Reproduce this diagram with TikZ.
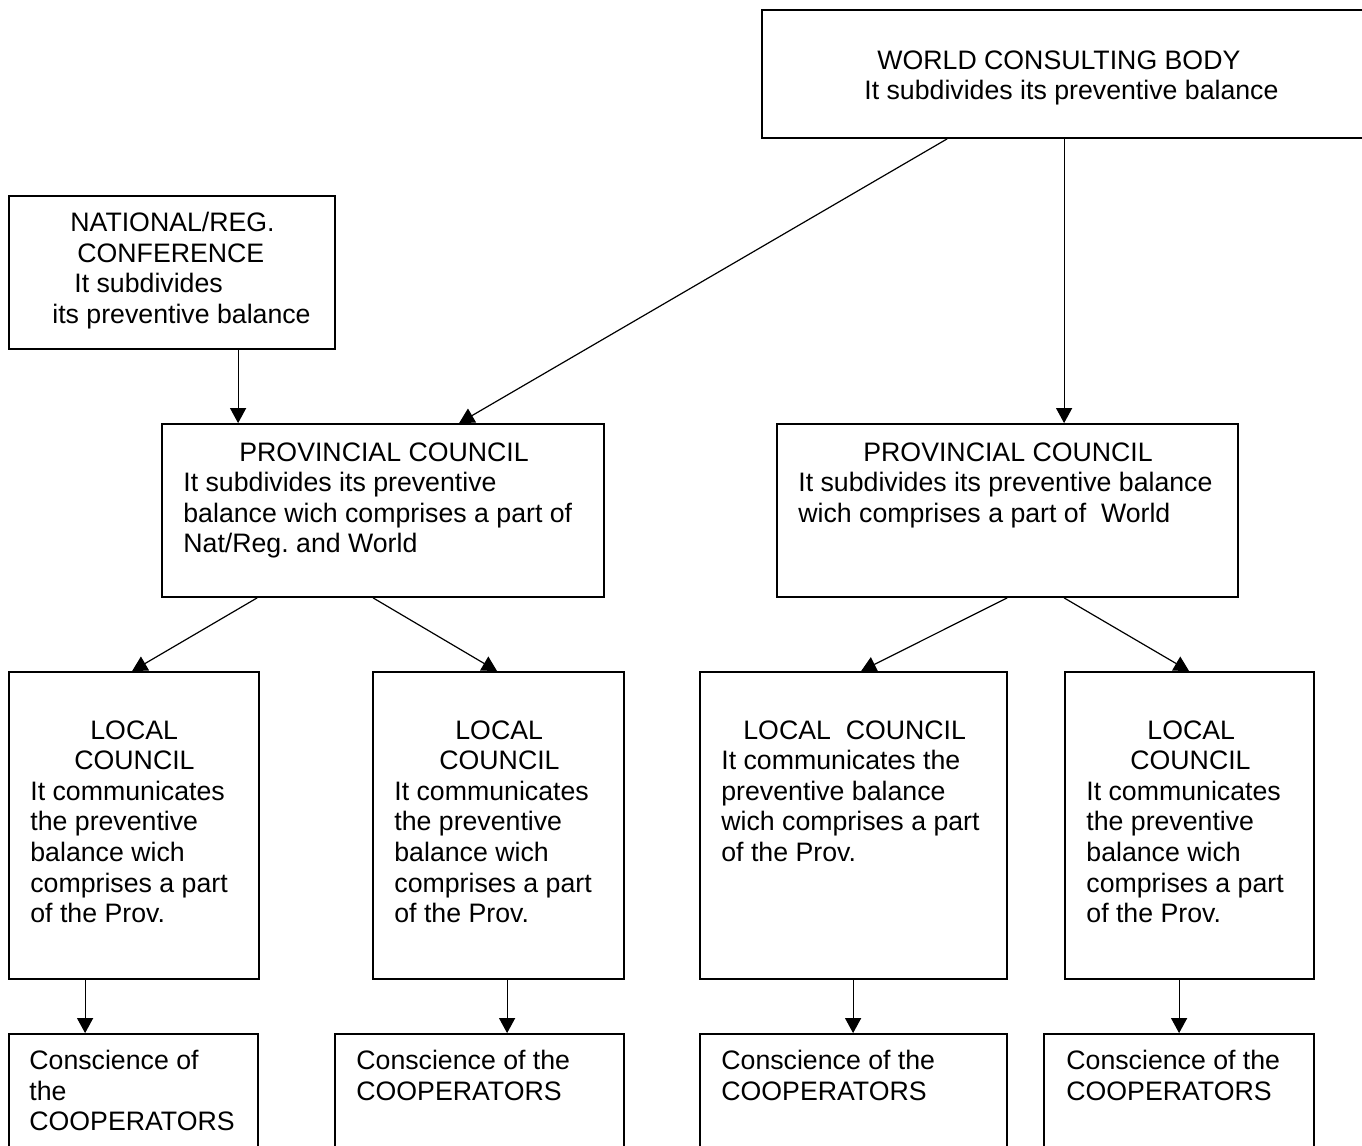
\documentclass[tikz,border=0pt]{standalone}
\usepackage{fontspec}
\setmainfont{Liberation Sans}
\usetikzlibrary{arrows.meta,fit}
\frenchspacing
\tikzset{
  box/.style={draw, line width=0.9pt, inner sep=0pt},
  txt/.style={anchor=north west, inner sep=0pt, align=left, font=\fontsize{13.35}{15.3}\selectfont},
  arr/.style={-{Triangle[length=7.5pt,width=8pt]}, line width=0.6pt}
}
\begin{document}
\begin{tikzpicture}[x=0.5pt,y=-0.5pt]
	\useasboundingbox (0,0) rectangle (1362,1146);
	% boxes
	\node [box, fit={(762,10) (1380,138)}] (world) {};
	\node [box, fit={(9,196) (335,349)}] (natl) {};
	\node [box, fit={(162,424) (604,597)}] (prov1) {};
	\node [box, fit={(777,424) (1238,597)}] (prov2) {};
	\node [box, fit={(9,672) (259,979)}] (loc1) {};
	\node [box, fit={(373,672) (624,979)}] (loc2) {};
	\node [box, fit={(700,672) (1007,979)}] (loc3) {};
	\node [box, fit={(1065,672) (1314,979)}] (loc4) {};
	\node [box, fit={(9,1034) (258,1170)}] (cons1) {};
	\node [box, fit={(335,1034) (624,1170)}] (cons2) {};
	\node [box, fit={(700,1034) (1007,1170)}] (cons3) {};
	\node [box, fit={(1044,1034) (1314,1170)}] (cons4) {};
	% texts
	\node [txt] (world-t) at (864,50) {\hspace*{6.5pt}WORLD CONSULTING BODY\\It subdivides its preventive balance};
	\node [txt] (natl-t) at (52,212) {\hspace*{9pt}NATIONAL/REG.\\\hspace*{12.5pt}CONFERENCE\\\hspace*{11pt}It subdivides\\its preventive balance};
	\node [txt] (prov1-t) at (183,442) {\hspace*{28pt}PROVINCIAL COUNCIL\\It subdivides its preventive\\balance wich comprises a part of\\Nat/Reg. and World};
	\node [txt] (prov2-t) at (798,442) {\hspace*{32.5pt}PROVINCIAL COUNCIL\\It subdivides its preventive balance\\wich comprises a part of\ \ World};
	\node [txt] (loc1-t) at (30,720) {\hspace*{30pt}LOCAL\\\hspace*{22pt}COUNCIL\\It communicates\\the preventive\\balance wich\\comprises a part\\of the Prov.};
	\node [txt] (loc2-t) at (394,720) {\hspace*{30.5pt}LOCAL\\\hspace*{22.5pt}COUNCIL\\It communicates\\the preventive\\balance wich\\comprises a part\\of the Prov.};
	\node [txt] (loc3-t) at (721,720) {\hspace*{11pt}LOCAL\ \ COUNCIL\\It communicates the\\preventive balance\\wich comprises a part\\of the Prov.};
	\node [txt] (loc4-t) at (1086,720) {\hspace*{30.5pt}LOCAL\\\hspace*{22pt}COUNCIL\\It communicates\\the preventive\\balance wich\\comprises a part\\of the Prov.};
	\node [txt] (cons1-t) at (29,1050) {Conscience of\\the\\COOPERATORS};
	\node [txt] (cons2-t) at (356,1050) {Conscience of the\\COOPERATORS};
	\node [txt] (cons3-t) at (721,1050) {Conscience of the\\COOPERATORS};
	\node [txt] (cons4-t) at (1066,1050) {Conscience of the\\COOPERATORS};
	% arrows
	\draw [arr] ([xshift=93pt]world.south west) -- ([xshift=149pt]prov1.north west);
	\draw [arr] ([xshift=151.5pt]world.south west) -- ([xshift=144pt]prov2.north west);
	\draw [arr] ([xshift=115pt]natl.south west) -- ([xshift=38.5pt]prov1.north west);
	\draw [arr] ([xshift=48pt]prov1.south west) -- ([xshift=62pt]loc1.north west);
	\draw [arr] ([xshift=106pt]prov1.south west) -- ([xshift=62.5pt]loc2.north west);
	\draw [arr] ([xshift=115.5pt]prov2.south west) -- ([xshift=81pt]loc3.north west);
	\draw [arr] ([xshift=144pt]prov2.south west) -- ([xshift=62.5pt]loc4.north west);
	\draw [arr] ([xshift=38.5pt]loc1.south west) -- ([xshift=38.5pt]cons1.north west);
	\draw [arr] ([xshift=67.5pt]loc2.south west) -- ([xshift=86.5pt]cons2.north west);
	\draw [arr] ([xshift=77pt]loc3.south west) -- ([xshift=77pt]cons3.north west);
	\draw [arr] ([xshift=57.5pt]loc4.south west) -- ([xshift=68pt]cons4.north west);
\end{tikzpicture}
\end{document}
